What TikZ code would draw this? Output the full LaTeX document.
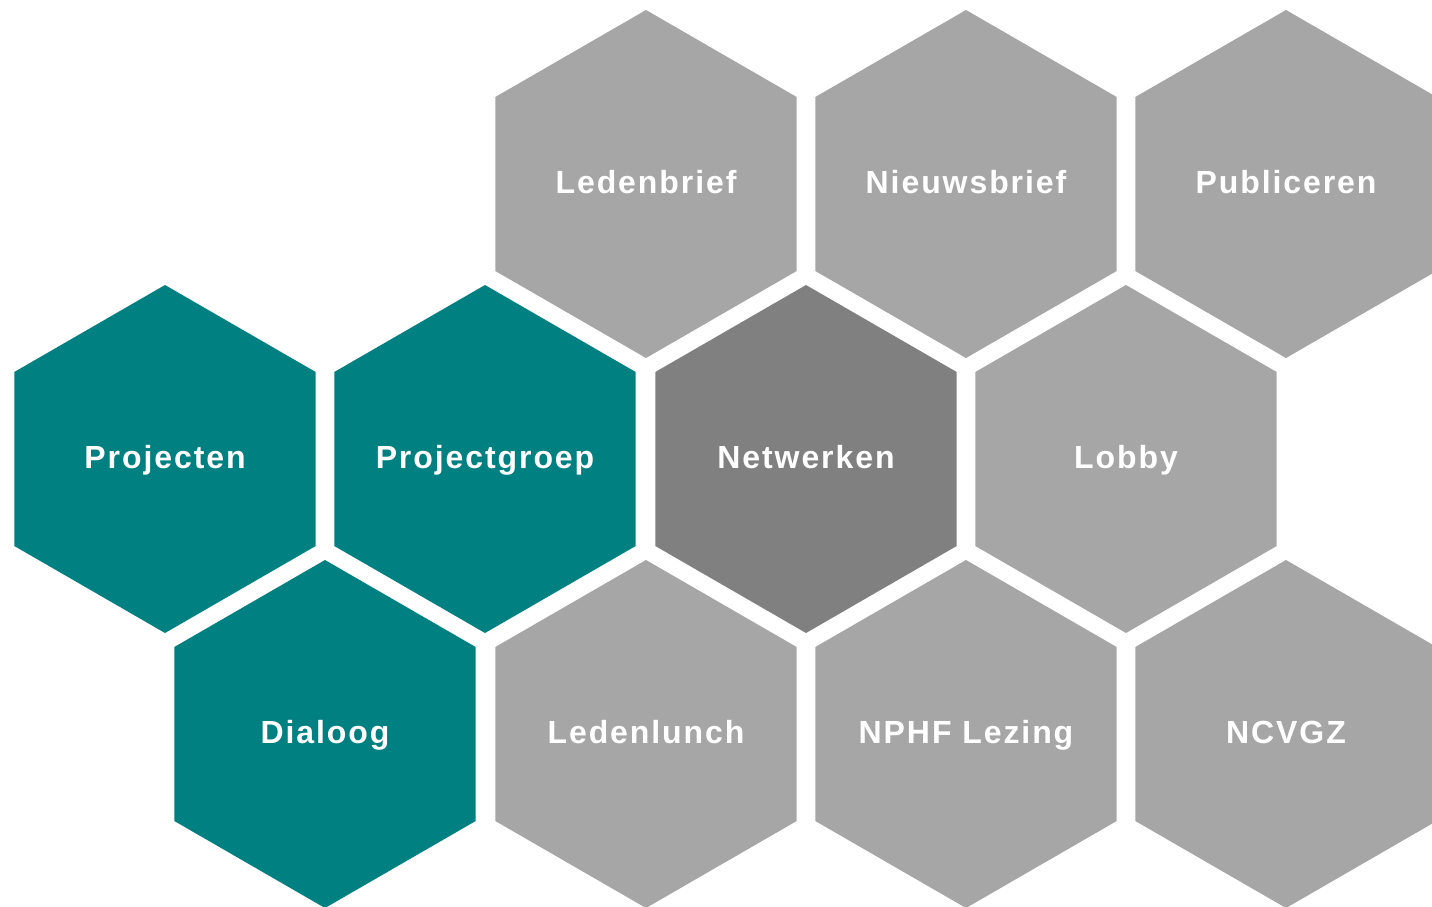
\documentclass[tikz,border=0pt]{standalone}
\usepackage{fontspec}
\setmainfont{Liberation Sans}[LetterSpace=6]
\usetikzlibrary{shapes.geometric}
\definecolor{tealhex}{RGB}{0,128,128}
\definecolor{darkhex}{RGB}{128,128,128}
\definecolor{lighthex}{RGB}{166,166,166}
\tikzset{
  hexcell/.style={regular polygon, regular polygon sides=6, shape border rotate=30,
    minimum size=348pt, inner sep=0pt, draw=none},
  tealcell/.style={hexcell, fill=tealhex},
  darkcell/.style={hexcell, fill=darkhex},
  greycell/.style={hexcell, fill=lighthex},
  celltext/.style={anchor=base, inner sep=0pt, text=white,
    font=\fontsize{32}{36}\selectfont\bfseries}
}
\newcommand{\hexlabel}[2]{\node[celltext] (#1-t) at ([yshift=-9pt]#1.center) {#2};}
\begin{document}
\begin{tikzpicture}[x=1pt,y=-1pt]
\useasboundingbox (0,0) rectangle (1432,907);
\clip (0,0) rectangle (1432,907);
\node[greycell] (ledenbrief) at (646,184) {};
\node[greycell] (nieuwsbrief) at (966,184) {};
\node[greycell] (publiceren) at (1286,184) {};
\node[tealcell] (projecten) at (165,459) {};
\node[tealcell] (projectgroep) at (485,459) {};
\node[darkcell] (netwerken) at (806,459) {};
\node[greycell] (lobby) at (1126,459) {};
\node[tealcell] (dialoog) at (325,734) {};
\node[greycell] (ledenlunch) at (646,734) {};
\node[greycell] (nphf) at (966,734) {};
\node[greycell] (ncvgz) at (1286,734) {};
\hexlabel{ledenbrief}{Ledenbrief}
\hexlabel{nieuwsbrief}{Nieuwsbrief}
\hexlabel{publiceren}{Publiceren}
\hexlabel{projecten}{Projecten}
\hexlabel{projectgroep}{Projectgroep}
\hexlabel{netwerken}{Netwerken}
\hexlabel{lobby}{Lobby}
\hexlabel{dialoog}{Dialoog}
\hexlabel{ledenlunch}{Ledenlunch}
\hexlabel{nphf}{NPHF Lezing}
\hexlabel{ncvgz}{NCVGZ}
\end{tikzpicture}
\end{document}
